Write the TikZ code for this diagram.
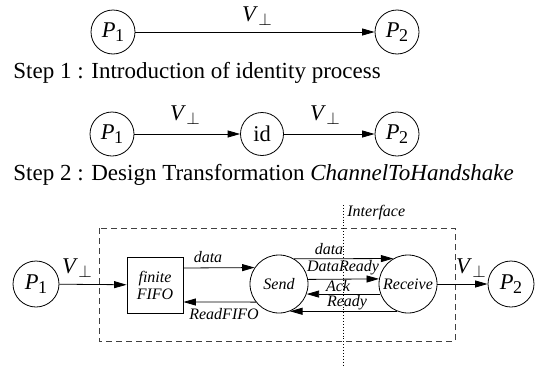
\documentclass[tikz,border=0pt]{standalone}
\usepackage{fontspec}
\setmainfont{Liberation Serif}
\usetikzlibrary{arrows.meta,calc}

% process names and channel labels
\newcommand\procP[1]{\textit{P}\kern-0.3pt\raisebox{-0.17em}{\fontsize{18}{18}\selectfont #1}}
\newcommand\vbot{\textit{V}\kern0.5pt\raisebox{-0.2em}{\fontsize{16}{16}\selectfont$\perp$}}

\begin{document}
\begin{tikzpicture}[x=1pt,y=-1pt,
  line width=0.8pt,
  >={Triangle[length=12.5pt,width=7pt]},
  proc/.style={circle,draw,inner sep=0pt,minimum size=44pt,font=\fontsize{22.5}{24}\selectfont},
  stage/.style={circle,draw,inner sep=0pt,minimum size=58pt,font=\fontsize{16}{18}\selectfont\itshape},
  chanlbl/.style={font=\fontsize{22.5}{24}\selectfont,inner sep=0pt},
  sig/.style={font=\fontsize{16}{18}\selectfont\itshape,inner sep=0pt},
  steptext/.style={font=\fontsize{23}{25}\selectfont,anchor=west,inner sep=0pt},
  fifobox/.style={draw,minimum width=56pt,minimum height=56pt,inner sep=0pt,align=center,font=\fontsize{16}{16}\selectfont\itshape}
]
\useasboundingbox (0,0) rectangle (537,367);

% original channel
\node[proc] (a1) at (113,32) {\procP{1}};
\node[proc] (a2) at (397,32) {\procP{2}};
\draw[->] (a1) -- (a2);
\node[chanlbl] (av) at (257,16) {\vbot};

\node[steptext] (s1) at (13,73) {Step 1 : Introduction of identity process};

% identity process inserted
\node[proc] (b1) at (112,134) {\procP{1}};
\node[proc,minimum size=43pt] (bid) at (262,134) {id};
\node[proc] (b2) at (397,134) {\procP{2}};
\draw[->] (b1) -- (bid);
\draw[->] (bid) -- (b2);
\node[chanlbl] (bv1) at (185,115) {\vbot};
\node[chanlbl] (bv2) at (325,115) {\vbot};

\node[steptext] (s2) at (13,175) {Step 2 : Design Transformation \textit{ChannelToHandshake}};

% handshake implementation
\draw[dashed,dash pattern=on 6pt off 4pt,draw=black!75] (99,228) rectangle (455,341);
\coordinate (itop) at (343,205);
\coordinate (ibot) at (343,367);
\draw[dotted,line width=0.9pt] (itop) -- (ibot);
\node[sig,anchor=west] (ilbl) at (347,213) {Interface};

\node[proc,minimum size=46pt] (c1) at (36,284) {\procP{1}};
\node[fifobox] (fifo) at (155,285) {finite\\[1pt]FIFO};
\node[stage] (send) at (279,284) {Send};
\node[stage] (recv) at (408,284) {Receive};
\node[proc,minimum size=46pt] (c2) at (511,284) {\procP{2}};

\draw[->] (c1) -- (fifo);
\node[chanlbl] (cv1) at (77,268) {\vbot};

\draw[->] ($(fifo.east)+(0,-17)$) -- (send.146.5);
\node[sig] (ldata1) at (208,257) {data};
\draw[->] (send.218.4) -- ($(fifo.east)+(0,17)$);
\node[sig] (lread) at (224,314) {ReadFIFO};

\draw[->] (send.59.5) -- (recv.120.5);
\node[sig] (ldata2) at (329,249) {data};
\draw[->] (send.9.9) -- (recv.170.1);
\node[sig] (ldr) at (343,268) {DataReady};
\draw[->] (recv.200.2) -- (send.-20.2);
\node[sig] (lack) at (338,286) {Ack};
\draw[->] (recv.248.6) -- (send.-68.6);
\node[sig] (lrdy) at (347,303) {Ready};

\draw[->] (recv) -- (c2);
\node[chanlbl] (cv2) at (471,268) {\vbot};
\end{tikzpicture}
\end{document}
